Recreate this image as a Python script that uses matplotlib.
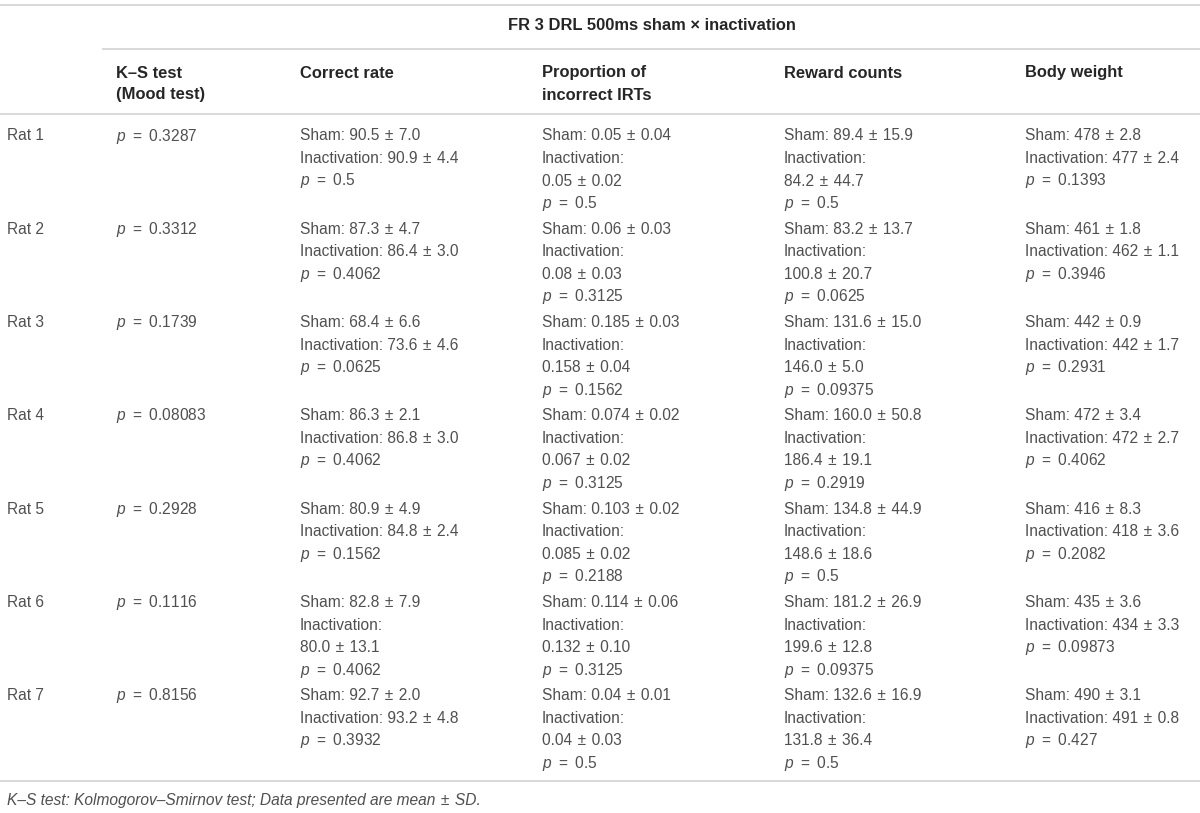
import matplotlib
matplotlib.use("Agg")
import matplotlib.pyplot as plt

# ---- data ----
rats = ["Rat 1", "Rat 2", "Rat 3", "Rat 4", "Rat 5", "Rat 6", "Rat 7"]
ks_p = ["0.3287", "0.3312", "0.1739", "0.08083", "0.2928", "0.1116", "0.8156"]

correct_sham = ["90.5 ± 7.0", "87.3 ± 4.7", "68.4 ± 6.6", "86.3 ± 2.1", "80.9 ± 4.9", "82.8 ± 7.9", "92.7 ± 2.0"]
correct_inact = ["90.9 ± 4.4", "86.4 ± 3.0", "73.6 ± 4.6", "86.8 ± 3.0", "84.8 ± 2.4", "80.0 ± 13.1", "93.2 ± 4.8"]
correct_p = ["0.5", "0.4062", "0.0625", "0.4062", "0.1562", "0.4062", "0.3932"]

irt_sham = ["0.05 ± 0.04", "0.06 ± 0.03", "0.185 ± 0.03", "0.074 ± 0.02", "0.103 ± 0.02", "0.114 ± 0.06", "0.04 ± 0.01"]
irt_inact = ["0.05 ± 0.02", "0.08 ± 0.03", "0.158 ± 0.04", "0.067 ± 0.02", "0.085 ± 0.02", "0.132 ± 0.10", "0.04 ± 0.03"]
irt_p = ["0.5", "0.3125", "0.1562", "0.3125", "0.2188", "0.3125", "0.5"]

reward_sham = ["89.4 ± 15.9", "83.2 ± 13.7", "131.6 ± 15.0", "160.0 ± 50.8", "134.8 ± 44.9", "181.2 ± 26.9", "132.6 ± 16.9"]
reward_inact = ["84.2 ± 44.7", "100.8 ± 20.7", "146.0 ± 5.0", "186.4 ± 19.1", "148.6 ± 18.6", "199.6 ± 12.8", "131.8 ± 36.4"]
reward_p = ["0.5", "0.0625", "0.09375", "0.2919", "0.5", "0.09375", "0.5"]

bw_sham = ["478 ± 2.8", "461 ± 1.8", "442 ± 0.9", "472 ± 3.4", "416 ± 8.3", "435 ± 3.6", "490 ± 3.1"]
bw_inact = ["477 ± 2.4", "462 ± 1.1", "442 ± 1.7", "472 ± 2.7", "418 ± 3.6", "434 ± 3.3", "491 ± 0.8"]
bw_p = ["0.1393", "0.3946", "0.2931", "0.4062", "0.2082", "0.09873", "0.427"]

super_header = "FR 3 DRL 500ms sham \u00d7 inactivation"
col_headers = [["K\u2013S test", "(Mood test)"], ["Correct rate"],
               ["Proportion of", "incorrect IRTs"], ["Reward counts"], ["Body weight"]]
footnote = "K\u2013S test: Kolmogorov\u2013Smirnov test; Data presented are mean ± SD."

# ---- style ----
FONT = "Liberation Sans"
plt.rcParams["font.family"] = [FONT, "DejaVu Sans"]
plt.rcParams["mathtext.fontset"] = "custom"
plt.rcParams["mathtext.rm"] = FONT
plt.rcParams["mathtext.it"] = FONT + ":italic"
TXT = "#505050"
HDR = "#262626"
LINE = "#cfcfcf"
FS = 11.2
FSB = 11.9
HS = "\u200a"
TS = "\u2009"

W, H = 1200, 813
fig = plt.figure(figsize=(W / 100, H / 100), dpi=100)
ax = fig.add_axes([0, 0, 1, 1])
ax.set_xlim(0, W)
ax.set_ylim(H, 0)
ax.axis("off")

col_x = [7, 116, 300, 542, 784, 1025]


def sp(s):
    return s.replace(" ± ", " " + HS + "±" + HS + " ")


# rules
for y, x0 in [(5, 0), (49, 102), (114, 0), (781, 0)]:
    ax.plot([x0, W], [y, y], color=LINE, lw=1.1, solid_capstyle="butt")

BASE = 5.5  # centre -> baseline offset (px)

ax.text(652, 25 + BASE, super_header, ha="center", va="baseline", fontsize=FSB,
        fontweight="bold", color=HDR)

for cx, lines in zip(col_x[1:], col_headers):
    for k, s in enumerate(lines):
        ax.text(cx, 72 + k * 22 + BASE, s, ha="left", va="baseline", fontsize=FSB,
                fontweight="bold", color=HDR)


def pline(v):
    return r"$p$" + " " + TS + "=" + TS + " " + v


def cell(sham, inact, p):
    out = ["Sham: " + sp(sham)]
    s = "Inactivation: " + inact
    if len(s) > 24:
        out += ["Inactivation:", sp(inact)]
    else:
        out.append(sp(s))
    out.append(pline(p))
    return out


row0, pitch, lsp = 135, 93.3, 22.5
for i, rat in enumerate(rats):
    y0 = row0 + i * pitch
    cells = [[rat], [pline(ks_p[i])],
             cell(correct_sham[i], correct_inact[i], correct_p[i]),
             cell(irt_sham[i], irt_inact[i], irt_p[i]),
             cell(reward_sham[i], reward_inact[i], reward_p[i]),
             cell(bw_sham[i], bw_inact[i], bw_p[i])]
    for cx, lines in zip(col_x, cells):
        for k, s in enumerate(lines):
            ax.text(cx, y0 + k * lsp + BASE, s, ha="left", va="baseline",
                    fontsize=FS, color=TXT)

ax.text(7, 799 + BASE, sp(footnote), ha="left", va="baseline", fontsize=FS,
        fontstyle="italic", color=TXT)

fig.savefig("out.png", dpi=100, facecolor="white")
